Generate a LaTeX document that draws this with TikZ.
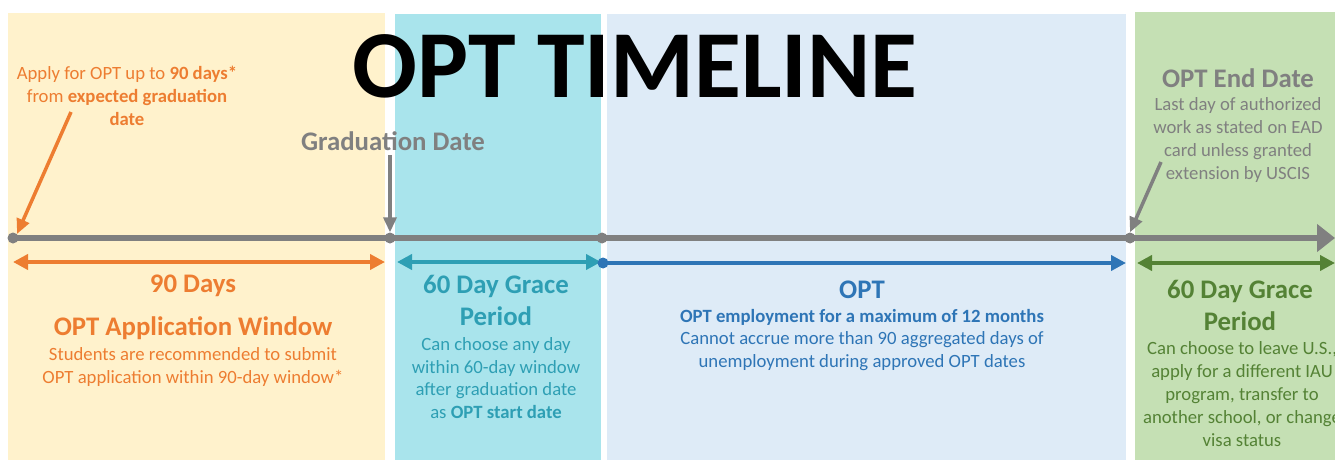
\documentclass[tikz,border=0pt]{standalone}
\usepackage{fontspec}
\setmainfont{Carlito}
\usetikzlibrary{arrows.meta}
\definecolor{creambg}{HTML}{FFF2CC}
\definecolor{cyanbg}{HTML}{A9E4EC}
\definecolor{bluebg}{HTML}{DEEBF7}
\definecolor{greenbg}{HTML}{C5E0B4}
\definecolor{orangec}{HTML}{ED7D31}
\definecolor{tealc}{HTML}{2E9FB4}
\definecolor{bluec}{HTML}{2E75B6}
\definecolor{greyc}{HTML}{808080}
\definecolor{greenc}{HTML}{548235}
\newcommand{\fs}[2]{\fontsize{#1}{#2}\selectfont}
\tikzset{
  txt/.style={inner sep=0pt, align=center},
  body/.style={font=\fs{18.7}{22.8}},
  bodyb/.style={font=\bfseries\fs{18.7}{22.8}},
  head/.style={font=\bfseries\fs{26.8}{32}},
  dbl/.style={line width=4.5pt, {Triangle[length=15pt,width=15pt]}-{Triangle[length=15pt,width=15pt]}},
  pointer/.style={line width=3.5pt, -{Triangle[length=15pt,width=13pt]}},
  dotc/.style={circle, inner sep=0pt, minimum size=11pt},
}
\begin{document}
\begin{tikzpicture}[x=1pt,y=-1pt]
\useasboundingbox (0,0) rectangle (1335,460);
\fill[white] (0,0) rectangle (1335,460);
% background panels
\fill[creambg] (8,13) rectangle (385,460);
\fill[cyanbg] (395,14) rectangle (601,460);
\fill[bluebg] (607,14) rectangle (1126,460);
\fill[greenbg] (1135,12) rectangle (1335,460);

% title
\node[txt, font=\bfseries\fs{96}{96}] (title) at (635,66) {OPT TIMELINE};

% timeline points
\node[dotc, fill=greyc] (p0) at (13,238) {};
\node[dotc, fill=greyc] (p1) at (390,238) {};
\node[dotc, fill=greyc] (p2) at (602,238) {};
\node[dotc, fill=greyc] (p3) at (1130,238) {};
\coordinate (pend) at (1335,238);
\draw[greyc, line width=5.5pt] (p0.center) -- (p3.center);
\draw[greyc, line width=5.5pt, -{Triangle[length=18pt,width=27pt]}] (p3.center) -- (pend);

% span arrows
\coordinate (oa) at (13,262);
\coordinate (ob) at (385,262);
\draw[orangec, dbl] (oa) -- (ob);
\coordinate (ca) at (397,262);
\coordinate (cb) at (601,262);
\draw[tealc, dbl] (ca) -- (cb);
\node[dotc, fill=bluec] (bd) at (603,263) {};
\coordinate (bb) at (1126,263);
\draw[bluec, line width=4.5pt, -{Triangle[length=15pt,width=15pt]}] (bd.center) -- (bb);
\coordinate (ga) at (1137,263);
\coordinate (gb) at (1335,263);
\draw[greenc, dbl] (ga) -- (gb);

% pointers
\coordinate (ostart) at (71,112);
\draw[orangec, pointer] (ostart) -- (p0.north east);
\coordinate (gstart) at (390,155);
\draw[greyc, pointer] (gstart) -- (p1.north);
\coordinate (estart) at (1161,162);
\draw[greyc, pointer] (estart) -- (p3.north);

% texts
\node[txt, text=orangec, body] (apply) at (127,96)
  {Apply for OPT up to \textbf{90 days*}\\from \textbf{expected graduation}\\\textbf{date}};
\node[txt, text=greyc, head] (grad) at (393,141) {Graduation Date};
\node[txt, text=orangec, head] (d90) at (193,286) {90 Days};
\node[txt, text=orangec, head] (appwin) at (193,328) {OPT Application Window};
\node[txt, text=orangec, body] (appdesc) at (193,367)
  {Students are recommended to submit\\OPT application within 90-day window*};

\node[txt, text=tealc, head] (grace1) at (496,300) {60 Day Grace\\Period};
\node[txt, text=tealc, body] (grace1d) at (496,378)
  {Can choose any day\\within 60-day window\\after graduation date\\as \textbf{OPT start date}};

\node[txt, text=bluec, head] (opt) at (862,290) {OPT};
\node[txt, text=bluec, bodyb] (optemp) at (862,317) {OPT employment for a maximum of 12 months};
\node[txt, text=bluec, body] (optdesc) at (862,351)
  {Cannot accrue more than 90 aggregated days of\\unemployment during approved OPT dates};

\node[txt, text=greyc, head] (endd) at (1238,78) {OPT End Date};
\node[txt, text=greyc, body] (endddesc) at (1238,140)
  {Last day of authorized\\work as stated on EAD\\card unless granted\\extension by USCIS};

\node[txt, text=greenc, head] (grace2) at (1240,305) {60 Day Grace\\Period};
\node[txt, text=greenc, body] (grace2d) at (1242,394)
  {Can choose to leave U.S.,\\apply for a different IAU\\program, transfer to\\another school, or change\\visa status};
\end{tikzpicture}
\end{document}
